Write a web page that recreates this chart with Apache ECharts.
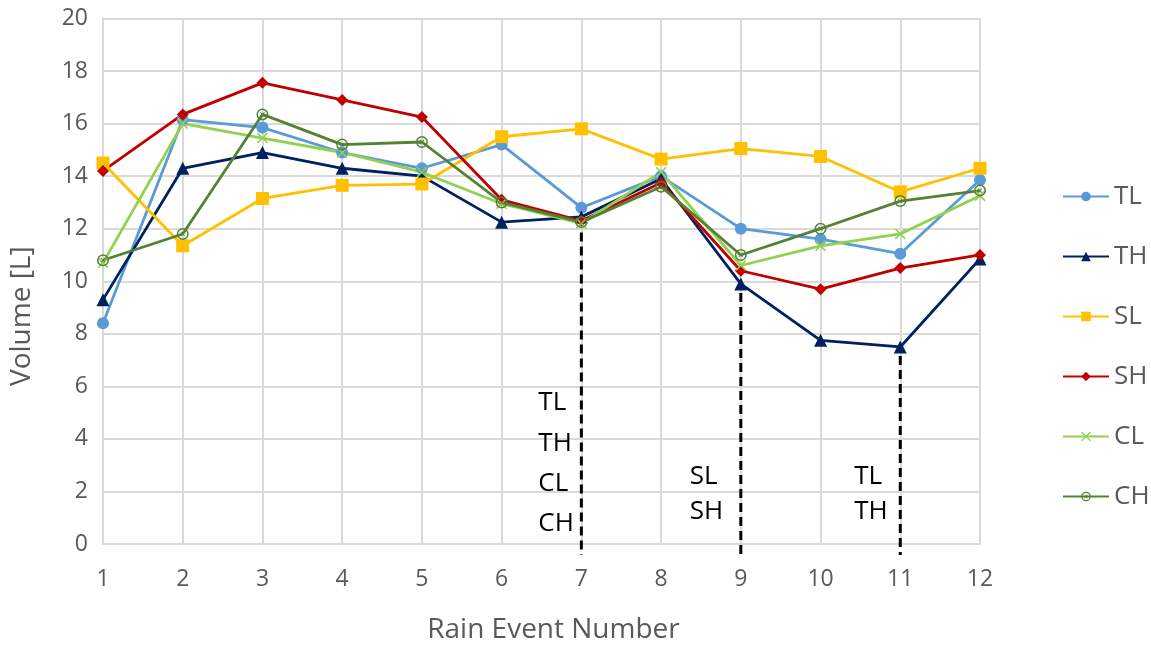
<!DOCTYPE html>
<html>
<head>
<meta charset="utf-8">
<script src="https://cdn.jsdelivr.net/npm/echarts@6/dist/echarts.min.js"></script>
<style>
  html, body { margin: 0; padding: 0; background: #fff; }
  #chart { width: 1151px; height: 649px; }
</style>
</head>
<body>
<div id="chart"></div>
<script>
// Rain event runoff volumes per treatment
const events = [1, 2, 3, 4, 5, 6, 7, 8, 9, 10, 11, 12];
const TL = [8.4, 16.15, 15.85, 14.9, 14.3, 15.2, 12.8, 14.0, 12.0, 11.6, 11.05, 13.85];
const TH = [9.3, 14.3, 14.9, 14.3, 14.0, 12.25, 12.45, 13.9, 9.9, 7.75, 7.5, 10.85];
const SL = [14.5, 11.35, 13.15, 13.65, 13.7, 15.5, 15.8, 14.65, 15.05, 14.75, 13.4, 14.3];
const SH = [14.2, 16.35, 17.55, 16.9, 16.25, 13.1, 12.3, 13.75, 10.4, 9.7, 10.5, 11.0];
const CL = [10.7, 16.0, 15.45, 14.9, 14.15, 12.95, 12.2, 14.15, 10.6, 11.35, 11.8, 13.25];
const CH = [10.8, 11.8, 16.35, 15.2, 15.3, 13.0, 12.25, 13.6, 11.0, 12.0, 13.05, 13.45];
const yTicks = [0, 2, 4, 6, 8, 10, 12, 14, 16, 18, 20];

// Events marked with a dashed drop line, and the treatments listed beside each
const markedEvents = [7, 9, 11];
const markedLabels = [['TL', 'TH', 'CL', 'CH'], ['SL', 'SH'], ['TL', 'TH']];

const seriesDefs = [
  { name: 'TL', data: TL, color: '#5B9BD5', symbol: 'circle', size: 12 },
  { name: 'TH', data: TH, color: '#002060', symbol: 'triangle', size: 13 },
  { name: 'SL', data: SL, color: '#FFC000', symbol: 'rect', size: 13 },
  { name: 'SH', data: SH, color: '#C00000', symbol: 'diamond', size: 12 },
  { name: 'CL', data: CL, color: '#92D050',
    symbol: 'path://M-5,-4L-4,-5L0,-1L4,-5L5,-4L1,0L5,4L4,5L0,1L-4,5L-5,4L-1,0Z', size: 11 },
  { name: 'CH', data: CH, color: '#548235',
    symbol: 'path://M0,-10A10,10 0 1,1 0,10A10,10 0 1,1 0,-10Z M0,-7.5A7.5,7.5 0 1,0 0,7.5A7.5,7.5 0 1,0 0,-7.5Z M-4,-3L-3,-4L0,-1L3,-4L4,-3L1,0L4,3L3,4L0,1L-3,4L-4,3L-1,0Z', size: 12 }
];

const all = [TL, TH, SL, SH, CL, CH];
const markData = markedEvents.map((ev, i) => {
  const idx = events.indexOf(ev);
  const low = Math.min(...all.map(s => s[idx]));
  return [ev, low, i];
});

// Text placement for each marked event: left offset from the line, first line y (data units), step
const labelLayout = [
  { dx: -43, start: 5.37, step: 1.53 },
  { dx: -51, start: 2.55, step: 1.31 },
  { dx: -46, start: 2.55, step: 1.31 }
];

const FONT = '"Open Sans", Lato, "Liberation Sans", sans-serif';
const GREY = '#595959';

const lineSeries = seriesDefs.map(d => ({
  name: d.name,
  type: 'line',
  data: events.map((e, i) => [e, d.data[i]]),
  symbol: d.symbol,
  symbolSize: d.size,
  showAllSymbol: true,
  lineStyle: { color: d.color, width: 2.8 },
  itemStyle: { color: d.color, borderWidth: 0 },
  emphasis: { disabled: true },
  z: 3
}));

const annotationSeries = {
  type: 'custom',
  name: 'drop-lines',
  data: markData,
  silent: true,
  clip: false,
  z: 2,
  renderItem: function (params, api) {
    const ev = api.value(0);
    const low = api.value(1);
    const k = api.value(2);
    const top = api.coord([ev, low]);
    const base = api.coord([ev, 0]);
    const lay = labelLayout[k];
    const children = [{
      type: 'line',
      shape: { x1: top[0], y1: top[1] + 9, x2: base[0], y2: base[1] + 11 },
      style: { stroke: '#000', lineWidth: 3, lineDash: [9, 5] }
    }];
    markedLabels[k].forEach((t, j) => {
      const p = api.coord([ev, lay.start - j * lay.step]);
      children.push({
        type: 'text',
        style: {
          text: t, x: p[0] + lay.dx, y: p[1],
          fill: '#000', font: '26px ' + FONT,
          textAlign: 'left', textVerticalAlign: 'middle'
        }
      });
    });
    return { type: 'group', children: children };
  }
};

const chart = echarts.init(document.getElementById('chart'), null, { renderer: 'canvas' });
chart.setOption({
  animation: false,
  backgroundColor: '#fff',
  textStyle: { fontFamily: FONT },
  grid: { left: 103, right: 171, top: 18.5, bottom: 98.5, containLabel: false },
  legend: {
    orient: 'vertical',
    left: 1057,
    top: 178,
    itemWidth: 46,
    itemHeight: 12,
    itemGap: 33,
    textStyle: { color: GREY, fontSize: 26, fontFamily: FONT, lineHeight: 27 },
    data: seriesDefs.map(d => d.name)
  },
  xAxis: {
    type: 'value',
    min: 1, max: 12, interval: 1,
    name: 'Rain Event Number',
    nameLocation: 'middle',
    nameGap: 72,
    nameTextStyle: { color: GREY, fontSize: 28, fontFamily: FONT, padding: [0, 0, 0, 24] },
    axisLine: { show: true, lineStyle: { color: '#d9d9d9', width: 2 } },
    axisTick: { show: false },
    axisLabel: { color: GREY, fontSize: 23, margin: 24, fontFamily: FONT },
    splitLine: { show: true, lineStyle: { color: '#d9d9d9', width: 2 } }
  },
  yAxis: {
    type: 'value',
    min: 0, max: 20, interval: 2,
    name: 'Volume [L]',
    nameLocation: 'middle',
    nameGap: 67,
    nameTextStyle: { color: GREY, fontSize: 28, fontFamily: FONT, padding: [0, 70, 0, 0] },
    axisLine: { show: true, lineStyle: { color: '#d9d9d9', width: 2 } },
    axisTick: { show: false },
    axisLabel: {
      color: GREY, fontSize: 23, margin: 15, fontFamily: FONT,
      formatter: v => (yTicks.includes(v) ? String(v) : '')
    },
    splitLine: { show: true, lineStyle: { color: '#d9d9d9', width: 2 } }
  },
  series: lineSeries.concat([annotationSeries])
});
</script>
</body>
</html>
